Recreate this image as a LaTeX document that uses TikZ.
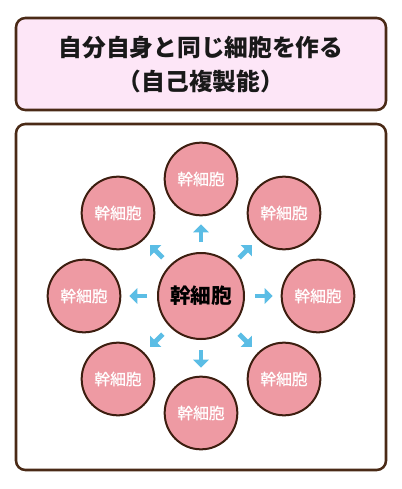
\documentclass[tikz,border=0pt]{standalone}
\usepackage{fontspec}
\setmainfont{Noto Sans CJK JP}
\newfontfamily\cellfont[FakeBold=0.7]{Noto Sans CJK JP}
\usetikzlibrary{arrows.meta}
\tikzset{every picture/.style={line width=0.75pt}}
\definecolor{framebrown}{RGB}{74,42,22}
\definecolor{titlepink}{RGB}{253,230,247}
\definecolor{cellpink}{RGB}{238,154,163}
\definecolor{cellline}{RGB}{61,30,16}
\definecolor{spreadblue}{RGB}{91,189,229}
\tikzset{
  cell/.style={circle, draw=cellline, fill=cellpink, line width=1.5pt, minimum size=54.5pt, inner sep=0pt, text=white, font=\cellfont\fontsize{11.8}{13}\selectfont},
  stem/.style={cell, minimum size=64.5pt, text=black, font=\fontsize{15.5}{18}\selectfont\bfseries},
  spread/.style={draw=spreadblue, line width=3.6pt, -{Triangle[width=11.5pt,length=6pt]}, shorten <=7.5pt, shorten >=6pt}
}

\begin{document}
\begin{tikzpicture}[x=0.75pt,y=0.75pt,yscale=-1,xscale=1]
\useasboundingbox (0,0) rectangle (402,489);

%Shape: Title Box
\draw [draw=framebrown, fill=titlepink, line width=1.9pt, rounded corners=7pt] (16,18) rectangle (386,110);
%Shape: Main Box
\draw [draw=framebrown, fill=white, line width=1.9pt, rounded corners=7pt] (16,124) rectangle (386,470);

% Text Node
\node [text=black!90, font=\fontsize{17.8}{20}\selectfont\bfseries] (title) at (201,48) {自分自身と同じ細胞を作る};
% Text Node
\node [text=black!90, font=\fontsize{17.8}{20}\selectfont\bfseries] (subtitle) at (201,81) {（自己複製能）};

% Cells
\node [stem] (cen) at (201,296) {幹細胞};
\node [cell] (n) at (201,179) {幹細胞};
\node [cell] (ne) at (284,213) {幹細胞};
\node [cell] (e) at (318,296) {幹細胞};
\node [cell] (se) at (284,379) {幹細胞};
\node [cell] (s) at (201,413) {幹細胞};
\node [cell] (sw) at (118,379) {幹細胞};
\node [cell] (w) at (84,296) {幹細胞};
\node [cell] (nw) at (118,213) {幹細胞};

% Arrows
\draw [spread] (cen) -- (n);
\draw [spread] (cen) -- (ne);
\draw [spread] (cen) -- (e);
\draw [spread] (cen) -- (se);
\draw [spread] (cen) -- (s);
\draw [spread] (cen) -- (sw);
\draw [spread] (cen) -- (w);
\draw [spread] (cen) -- (nw);
\end{tikzpicture}
\end{document}
